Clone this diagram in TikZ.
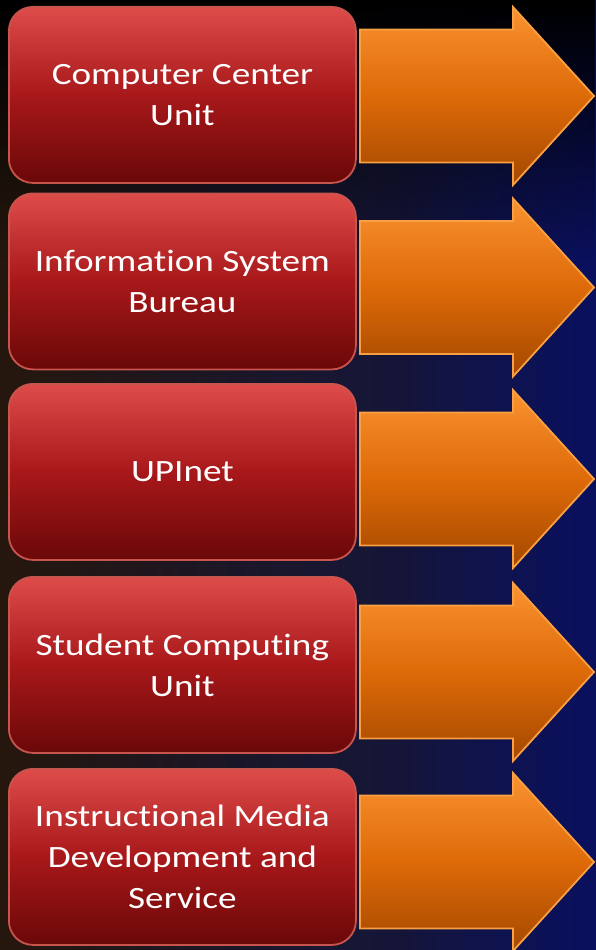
\documentclass[tikz,border=0pt]{standalone}
\usepackage{fontspec}
\setmainfont{Carlito}[FakeStretch=1.2,Ligatures=NoCommon]
\usetikzlibrary{calc,fadings}
\definecolor{bgleft}{HTML}{3A2414}
\definecolor{bgright}{HTML}{14207A}
\definecolor{boxtop}{HTML}{DE4C4A}
\definecolor{boxmid}{HTML}{A8181A}
\definecolor{boxbot}{HTML}{6A0808}
\definecolor{boxline}{HTML}{C8544E}
\definecolor{arrtop}{HTML}{FA9230}
\definecolor{arrmid}{HTML}{DE6A08}
\definecolor{arrbot}{HTML}{A44800}
\definecolor{arrline}{HTML}{F9A044}
\tikzfading[name=fadedown, top color=transparent!0, bottom color=transparent!100]
\tikzfading[name=fadeleft, left color=transparent!100, right color=transparent!0]
\tikzset{
  unitbox/.style={draw=boxline, line width=1.8pt, rounded corners=24pt,
    top color=boxtop, bottom color=boxbot, middle color=boxmid,
    minimum width=347pt, minimum height=176pt, inner sep=0pt,
    text=white, align=center, font=\fontsize{31}{41}\selectfont, anchor=north west},
  bigarrow/.style={draw=arrline, line width=1.8pt, line join=miter,
    top color=arrtop, bottom color=arrbot, middle color=arrmid}
}
\begin{document}
\begin{tikzpicture}[x=1pt,y=1pt]
\useasboundingbox (0,0) rectangle (596,-950);
% background
\shade[left color=bgleft, right color=bgright] (0,0) rectangle (596,-950);
\fill[blue!60!bgright, opacity=0.3, path fading=fadeleft] (400,0) rectangle (596,-950);
\fill[black, opacity=0.35] (0,0) rectangle (596,-950);
\fill[black, path fading=fadedown] (0,0) rectangle (596,-260);
% boxes
\node[unitbox] (b1) at (8,-6) {Computer Center\\Unit};
\node[unitbox] (b2) at (8,-192.5) {Information System\\Bureau};
\node[unitbox] (b3) at (8,-383) {UPInet};
\node[unitbox] (b4) at (8,-576) {Student Computing\\Unit};
\node[unitbox] (b5) at (8,-768) {Instructional Media\\Development and\\Service};
% arrows
\foreach \i/\c in {1/96,2/287.5,3/479,4/672,5/862}{
  \draw[bigarrow] (360,-\c+66.5) -- (513,-\c+66.5) -- (513,-\c+89) -- (594,-\c)
    -- (513,-\c-89) -- (513,-\c-66.5) -- (360,-\c-66.5) -- cycle;
}
\end{tikzpicture}
\end{document}
